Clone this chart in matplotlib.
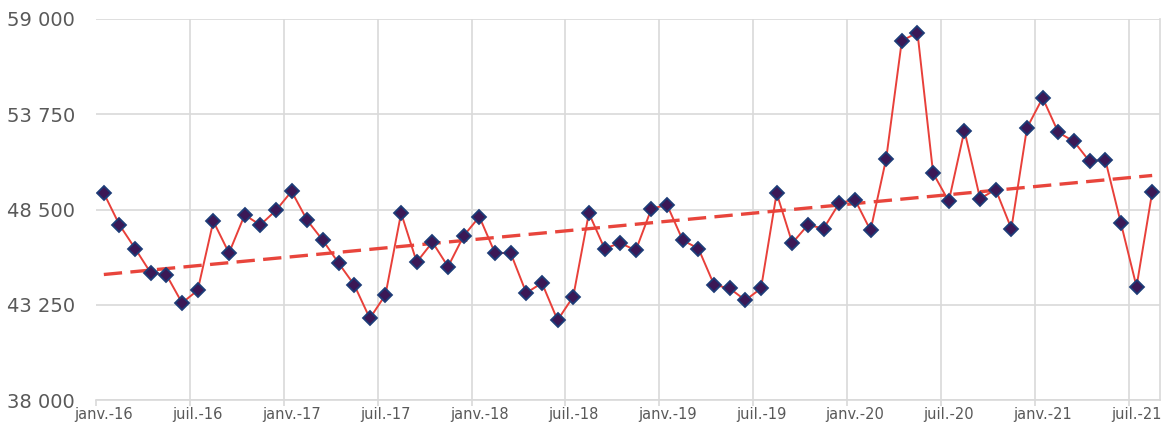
import numpy as np
import matplotlib
matplotlib.use("Agg")
from matplotlib import pyplot as plt
from matplotlib.ticker import FuncFormatter, FixedLocator

# monthly values, janv.-16 .. août-21
values = [49400, 47650, 46350, 45000, 44900, 43350, 44050, 47850, 46100, 48200, 47650, 48450,
          49500, 47900, 46800, 45550, 44350, 42500, 43800, 48300, 45600, 46700, 45350, 47050,
          48100, 46100, 46100, 43900, 44450, 42400, 43700, 48300, 46350, 46650, 46250, 48550,
          48750, 46800, 46350, 44350, 44150, 43500, 44150, 49400, 46650, 47650, 47450, 48850,
          49050, 47350, 51300, 57800, 58250, 50500, 48950, 52850, 49100, 49600, 47450, 53000,
          54650, 52750, 52250, 51150, 51250, 47750, 44250, 49450]
tick_labels = ['janv.-16', 'juil.-16', 'janv.-17', 'juil.-17', 'janv.-18', 'juil.-18',
               'janv.-19', 'juil.-19', 'janv.-20', 'juil.-20', 'janv.-21', 'juil.-21']
y_ticks = [38000, 43250, 48500, 53750, 59000]

x = np.arange(len(values))
a, b = np.polyfit(x, values, 1)

fig = plt.figure(figsize=(11.64, 4.28), dpi=100)
ax = fig.add_axes([96/1164, 1-400/428, (1160-96)/1164, (400-19)/428])

ax.plot(x, values, color='#e8403a', lw=1.4, zorder=3,
        marker='D', ms=7, mfc='#3b1856', mec='#1d3c78', mew=1.3)
ax.plot(x, a*x+b, color='#e8453c', lw=2.4, dashes=(5.5, 2.5), zorder=2)

ax.set_xlim(-0.5, len(values)-0.5)
ax.set_ylim(38000, 59000)
ax.set_yticks(y_ticks)
ax.yaxis.set_major_formatter(FuncFormatter(lambda v, p: f"{int(v):,}".replace(',', ' ')))

grid_pos = np.arange(-0.5, len(values), 6)
ax.xaxis.set_major_locator(FixedLocator(grid_pos))
ax.xaxis.set_minor_locator(FixedLocator(np.arange(0, len(values), 6)))
ax.xaxis.set_major_formatter(FuncFormatter(lambda v, p: ''))
ax.set_xticklabels(tick_labels, minor=True)

ax.grid(True, color='#d9d9d9', lw=1.2)
ax.set_axisbelow(True)
ax.xaxis.get_gridlines()[0].set_visible(False)
for s in ['top', 'left']:
    ax.spines[s].set_visible(False)
ax.spines['right'].set_color('#d9d9d9')
ax.spines['bottom'].set_color('#d9d9d9')
ax.spines['right'].set_linewidth(1.2)
ax.spines['bottom'].set_linewidth(1.2)

ax.tick_params(axis='y', length=0, pad=15, labelsize=14, labelcolor='#595959')
ax.tick_params(axis='x', which='major', length=4, color='#d9d9d9', width=1.2)
ax.tick_params(axis='x', which='minor', length=0, pad=5, labelsize=10.5, labelcolor='#595959')

fig.savefig('out.png', dpi=100)
